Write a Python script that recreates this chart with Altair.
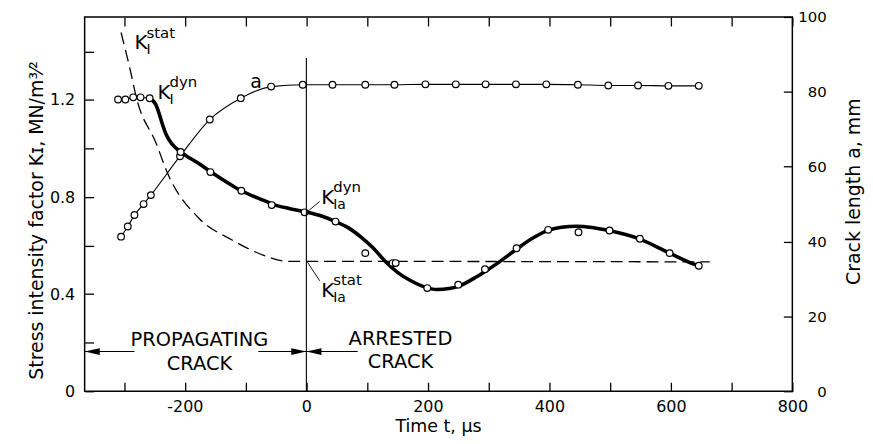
import altair as alt
import pandas as pd

# ---------------- data ----------------
# crack length a (mm) measured points, right axis
a_t = [-305, -294, -283, -268, -256, -208, -159, -108, -58, -6, 43, 97, 145, 196,
       246, 295, 345, 395, 447, 497, 546, 596, 646]
a_mm = [41.3, 44.0, 47.1, 50.0, 52.4, 62.8, 72.6, 78.3, 81.4, 81.9, 81.9, 81.9, 81.9,
        82.0, 82.0, 82.0, 82.0, 82.0, 81.9, 81.7, 81.7, 81.6, 81.6]

# K_I^dyn measured points before the drop (thin connected)
kd_early_t = [-310, -298, -285, -273, -258]
kd_early_K = [1.202, 1.202, 1.211, 1.211, 1.207]

# K dyn measured points (open circles on/near thick curve)
kd_t = [-207, -158, -107, -57, -3, 48, 97, 142, 147, 199, 250, 294, 346, 398, 448,
        499, 549, 598, 646]
kd_K = [0.986, 0.903, 0.826, 0.767, 0.737, 0.699, 0.569, 0.528, 0.528, 0.425, 0.439,
        0.503, 0.589, 0.665, 0.655, 0.662, 0.628, 0.569, 0.517]

# smooth thick K dyn curve
kc_t = [-258, -248, -242, -237, -231, -221, -207, -177, -157, -123, -107, -68, -57,
        -27, 3, 25, 47, 70, 90, 110, 128, 150, 172, 194, 215, 235, 250, 281, 300,
        319, 346, 372, 398, 420, 445, 470, 498, 548, 598, 641, 646]
kc_K = [1.207, 1.182, 1.141, 1.100, 1.059, 1.018, 0.986, 0.938, 0.903, 0.849, 0.826,
        0.784, 0.772, 0.752, 0.737, 0.722, 0.700, 0.672, 0.635, 0.590, 0.540, 0.490,
        0.455, 0.430, 0.419, 0.423, 0.432, 0.473, 0.503, 0.535, 0.585, 0.630, 0.663,
        0.676, 0.680, 0.675, 0.662, 0.628, 0.569, 0.521, 0.517]

# static K curve (dashed)
ks_t = [-305, -291, -279, -247, -229, -177, -123, -68, -30, 0, 664]
ks_K = [1.478, 1.335, 1.202, 1.02, 0.901, 0.713, 0.624, 0.558, 0.535, 0.535, 0.533]

# annotation labels  K_x^y
lab_t = [-283, -245, 24.5, 24.5]
lab_K = [1.408, 1.203, 0.772, 0.389]
lab_sup = ["stat", "dyn", "dyn", "stat"]
lab_sub = ["I", "I", "Ia", "Ia"]

# region texts
reg_text = ["PROPAGATING", "CRACK", "ARRESTED", "CRACK"]
reg_t = [-176, -176, 155, 155]
reg_K = [0.1845, 0.089, 0.191, 0.096]

# arrow shafts
arr_t0 = [-365, -79, 0]
arr_t1 = [-283, 0, 84.5]
arr_K = 0.1636
LEFT_HEAD = "M0,0L2,-0.45L2,0.45Z"
RIGHT_HEAD = "M0,0L-2,-0.45L-2,0.45Z"
head_t = [-365, 0, 0]
head_shape = [LEFT_HEAD, RIGHT_HEAD, LEFT_HEAD]

# leader lines for K_Ia labels
lead_t0 = [1, 1]
lead_K0 = [0.738, 0.535]
lead_t1 = [22, 22]
lead_K1 = [0.782, 0.455]

X_DOMAIN = [-365, 800]
K_DOMAIN = [0, 1.542]
A_DOMAIN = [0, 100]
FONT = "DejaVu Sans"

# ---------------- helpers ----------------
def X(field="t", axis=None):
    return alt.X(f"{field}:Q", scale=alt.Scale(domain=X_DOMAIN, nice=False, zero=False),
                 axis=axis)

def X2(field):
    return alt.X2(f"{field}:Q")

def YK(field="K", axis=None):
    return alt.Y(f"{field}:Q", scale=alt.Scale(domain=K_DOMAIN, nice=False, zero=False),
                 axis=axis)

def YA(field="a", axis=None):
    return alt.Y(f"{field}:Q", scale=alt.Scale(domain=A_DOMAIN, nice=False, zero=False),
                 axis=axis)

bottom_axis = alt.Axis(
    orient="bottom", values=list(range(-300, 801, 100)),
    labelExpr="datum.value % 200 == 0 ? '' + datum.value : ''",
    tickSize=9, offset=-9, tickWidth=1.3, labelFontSize=16, labelPadding=7,
    labelFlush=False, title="Time t, μs", titleFontSize=17.5, titleX=355, titleY=49,
    titleBaseline="alphabetic", titleAlign="center")

left_axis = alt.Axis(
    orient="left", values=[0, 0.2, 0.4, 0.6, 0.8, 1.0, 1.2, 1.4],
    labelExpr="round(datum.value*10) % 4 == 0 ? (datum.value == 0 ? '0' : format(datum.value, '.1f')) : ''",
    tickSize=9, offset=-9, tickWidth=1.3, labelFontSize=16, labelPadding=10,
    labelFlush=False, title="Stress intensity factor Kɪ, MN/m³⁄²", titleFontSize=19,
    titleAngle=270, titleX=-51, titleY=204, titleBaseline="alphabetic", titleAlign="center")

right_axis = alt.Axis(
    orient="right", values=[0, 20, 40, 60, 80, 100],
    tickSize=9, offset=-9, tickWidth=1.3, labelFontSize=15, labelPadding=34,
    labelAlign="right", labelFlush=False, title="Crack length a, mm", titleFontSize=19,
    titleAngle=270, titleX=76, titleY=175, titleBaseline="alphabetic", titleAlign="center")

top_axis = alt.Axis(
    orient="top", values=list(range(-300, 801, 100)), labels=False,
    tickSize=9, offset=-9, tickWidth=1.3, title=None)

# ---------------- data frames ----------------
df_a = pd.DataFrame({"t": a_t, "a": a_mm})
df_kde = pd.DataFrame({"t": kd_early_t, "K": kd_early_K})
df_kd = pd.DataFrame({"t": kd_t, "K": kd_K})
df_kc = pd.DataFrame({"t": kc_t, "K": kc_K})
df_ks = pd.DataFrame({"t": ks_t, "K": ks_K})
df_lab = pd.DataFrame({"t": lab_t, "K": lab_K, "sup": lab_sup, "sub": lab_sub, "main": ["K"] * 4})
df_reg = pd.DataFrame({"t": reg_t, "K": reg_K, "text": reg_text})
df_arr = pd.DataFrame({"t": arr_t0, "t2": arr_t1, "K": [arr_K] * 3})
df_head = pd.DataFrame({"t": head_t, "K": [arr_K] * 3, "shape": head_shape})
df_lead = pd.DataFrame({"t": lead_t0, "K": lead_K0, "t2": lead_t1, "K2": lead_K1})
df_vert = pd.DataFrame({"t": [0], "K": [0], "K2": [1.373]})

# ---------------- layers ----------------
static_line = alt.Chart(df_ks).mark_line(
    color="black", strokeWidth=1.3, strokeDash=[12, 6], interpolate="monotone"
).encode(x=X("t", bottom_axis), y=YK("K", left_axis))

a_line = alt.Chart(df_a).mark_line(
    color="black", strokeWidth=1.1, interpolate="monotone"
).encode(x=X("t", top_axis), y=YA("a", right_axis))

a_pts = alt.Chart(df_a).mark_point(
    shape="circle", filled=True, fill="white", stroke="black", strokeWidth=1.2,
    size=45, opacity=1
).encode(x=X("t"), y=YA("a"))

kde_line = alt.Chart(df_kde).mark_line(color="black", strokeWidth=1.1).encode(
    x=X("t"), y=YK("K"))

kc_line = alt.Chart(df_kc).mark_line(
    color="black", strokeWidth=3.6, interpolate="monotone", strokeCap="round"
).encode(x=X("t"), y=YK("K"))

circ = dict(shape="circle", filled=True, fill="white", stroke="black",
            strokeWidth=1.2, size=45, opacity=1)
kde_pts = alt.Chart(df_kde).mark_point(**circ).encode(x=X("t"), y=YK("K"))
kd_pts = alt.Chart(df_kd).mark_point(**circ).encode(x=X("t"), y=YK("K"))

vert = alt.Chart(df_vert).mark_rule(color="black", strokeWidth=1.1).encode(
    x=X("t"), y=YK("K"), y2=alt.Y2("K2:Q"))

arrows = alt.Chart(df_arr).mark_rule(color="black", strokeWidth=1.2).encode(
    x=X("t"), x2=X2("t2"), y=YK("K"))

heads = alt.Chart(df_head).mark_point(
    filled=True, color="black", size=230, opacity=1
).encode(x=X("t"), y=YK("K"), shape=alt.Shape("shape:N", scale=None, legend=None))

leads = alt.Chart(df_lead).mark_rule(color="black", strokeWidth=0.9).encode(
    x=X("t"), y=YK("K"), x2=X2("t2"), y2=alt.Y2("K2:Q"))

lab_main = alt.Chart(df_lab).mark_text(
    align="left", baseline="alphabetic", font=FONT, fontSize=20, color="black"
).encode(x=X("t"), y=YK("K"), text="main:N")
lab_sup_l = alt.Chart(df_lab).mark_text(
    align="left", baseline="alphabetic", font=FONT, fontSize=15, color="black",
    dx=12, dy=-12
).encode(x=X("t"), y=YK("K"), text="sup:N")
lab_sub_l = alt.Chart(df_lab).mark_text(
    align="left", baseline="alphabetic", font=FONT, fontSize=14, color="black",
    dx=12, dy=5
).encode(x=X("t"), y=YK("K"), text="sub:N")

a_lab = alt.Chart(pd.DataFrame({"t": [-92.5], "K": [1.25], "text": ["a"]})).mark_text(
    align="left", baseline="alphabetic", font=FONT, fontSize=19, color="black"
).encode(x=X("t"), y=YK("K"), text="text:N")

regions = alt.Chart(df_reg).mark_text(
    align="center", baseline="alphabetic", font=FONT, fontSize=19.5, color="black"
).encode(x=X("t"), y=YK("K"), text="text:N")

chart = alt.layer(
    static_line, a_line, a_pts, kde_line, kc_line, kde_pts, kd_pts, vert, arrows,
    heads, leads, lab_main, lab_sup_l, lab_sub_l, a_lab, regions
).resolve_scale(
    x="independent", y="independent"
).properties(
    width=711, height=376, autosize="none",
    padding={"left": 77, "top": 8, "right": 73, "bottom": 52},
    background="white"
).configure_view(
    stroke="black", strokeWidth=1.5
).configure_axis(
    labelFont=FONT, titleFont=FONT, labelColor="black", titleColor="black",
    tickColor="black", titleFontWeight="normal", grid=False, domain=False
)

chart.save("out.html", embed_options={"renderer": "svg", "actions": False})
